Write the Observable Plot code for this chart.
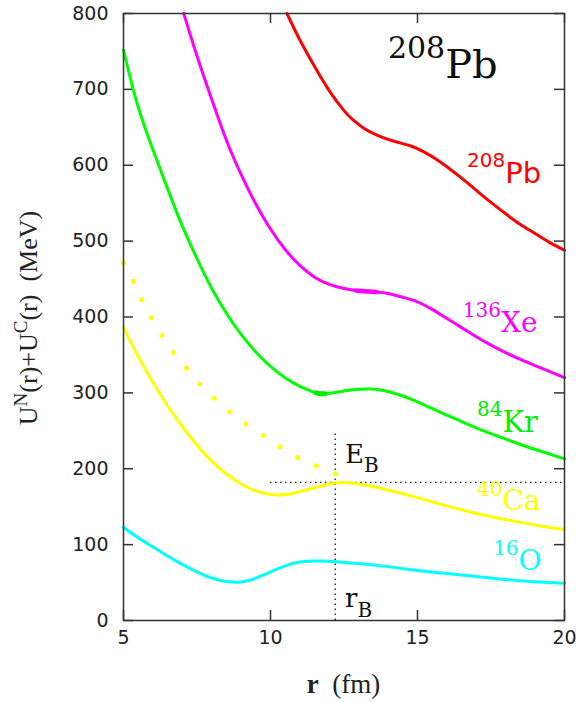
<!DOCTYPE html>
<html><head><meta charset="utf-8">
<script src="https://cdn.jsdelivr.net/npm/d3@7"></script>
<script src="https://cdn.jsdelivr.net/npm/@observablehq/plot@0.6"></script>
<style>body{margin:0;background:#fff;}</style>
</head><body><div id="chart"></div>
<script>
// ---- data (r in fm, U in MeV) ----
const pbR = [10.56, 11.0, 11.5, 12.0, 12.5, 12.8, 13.2, 13.6, 14.0, 14.4, 14.8, 15.2, 15.6, 16.0, 16.5, 17.0, 17.5, 18.0, 18.5, 19.0, 19.5, 20.0];
const pbU = [800, 765, 730, 698, 672, 660, 648, 640, 634, 629.5, 625, 618, 609, 598, 583, 567, 551, 536, 522, 510, 498, 488];

const xeR = [7.05, 7.5, 8.0, 8.5, 9.0, 9.5, 10.0, 10.5, 11.0, 11.5, 12.0, 12.5, 12.9, 13.2, 13.6, 14.0, 14.5, 15.0, 15.5, 16.0, 16.5, 17.0, 17.5, 18.0, 18.5, 19.0, 19.5, 20.0];
const xeU = [800, 744, 687, 633, 588, 549, 516, 489, 468, 452.5, 443, 437.5, 435, 434, 433, 431, 426, 420, 410, 398, 386, 374, 363, 353, 344, 336, 328, 320];

const krR = [5.0, 5.4, 5.8, 6.2, 6.6, 7.0, 7.5, 8.0, 8.5, 9.0, 9.5, 10.0, 10.5, 11.0, 11.3, 11.55, 11.7, 11.85, 12.2, 12.6, 13.0, 13.4, 13.8, 14.3, 14.8, 15.3, 15.8, 16.4, 17.0, 17.8, 18.5, 19.2, 20.0];
const krU = [752, 690, 642, 600, 559, 520, 477, 438, 405, 377, 354, 335, 320, 308.5, 303.5, 300, 298.8, 298.8, 300.5, 303, 304.8, 305, 303.5, 298.5, 291.5, 283, 274, 264, 254, 242, 232, 223, 213];

const caR = [5.0, 5.5, 6.0, 6.5, 7.0, 7.5, 8.0, 8.5, 9.0, 9.5, 10.0, 10.3, 10.7, 11.0, 11.5, 12.0, 12.4, 12.8, 13.3, 14.0, 15.0, 16.0, 17.0, 18.0, 19.0, 20.0];
const caU = [386, 348, 314, 283, 256, 231, 210, 193, 180, 171, 166, 165.5, 167, 170, 175, 180, 182, 181, 178, 172, 162, 151, 141, 133, 126, 120];

const caCoulR = [5.0, 5.35, 5.64, 5.98, 6.35, 6.77, 7.22, 7.68, 8.2, 8.76, 9.32, 9.94, 10.51, 11.13, 11.81, 12.6];
const caCoulU = [471, 446, 421, 397, 373, 350, 329, 308, 289, 270, 255, 239, 224, 211, 200, 187];

const oR = [5.0, 5.5, 6.0, 6.5, 7.0, 7.5, 8.0, 8.5, 8.9, 9.3, 9.7, 10.0, 10.5, 11.0, 11.5, 12.0, 12.5, 13.0, 14.0, 15.0, 16.0, 17.0, 18.0, 19.0, 20.0];
const oU = [123, 109, 97, 85, 74, 64, 56, 51.5, 50.5, 53, 59, 64, 72, 77, 78.5, 78, 76.5, 75, 71, 66, 62, 58, 54, 51, 49];

// barrier of 40Ca
const barrierR = 12.2;
const barrierE = 182;

// ticks
const xTicks = [5, 10, 15, 20];
const yTicks = [0, 100, 200, 300, 400, 500, 600, 700, 800];

const rows = (rs, us) => rs.map((r, i) => ({r, u: us[i]}));

// annotations: anchor (left, baseline) in data units
const labels = [
  {x: 14.01, y: 714, color: "#111", font: "DejaVu Serif", parts: [["208", 30, -20], ["Pb", 40, 0]]},
  {x: 16.70, y: 576, color: "#ff0000", font: "DejaVu Sans", parts: [["208", 20, -16], ["Pb", 29, 0]]},
  {x: 16.56, y: 379, color: "#ff00ff", font: "DejaVu Serif", parts: [["136", 20, -15], ["Xe", 28, 0]]},
  {x: 17.04, y: 248, color: "#00ee00", font: "DejaVu Serif", parts: [["84", 20, -16], ["Kr", 29, 0]]},
  {x: 17.04, y: 145, color: "#ffff00", font: "DejaVu Serif", parts: [["40", 20, -14], ["Ca", 28, 0]]},
  {x: 17.59, y: 66, color: "#00ffff", font: "DejaVu Serif", parts: [["16", 20, -15], ["O", 28, 0]]},
  {x: 12.55, y: 207, color: "#111", font: "DejaVu Serif", parts: [["E", 26, 0], ["B", 20, 9]]},
  {x: 12.55, y: 17, color: "#111", font: "DejaVu Serif", parts: [["r", 26, 0], ["B", 20, 10]]}
];

function drawLabels(index, scales, values, dims) {
  const g = d3.create("svg:g").attr("text-anchor", "start");
  for (const a of labels) {
    const x0 = scales.x(a.x), y0 = scales.y(a.y);
    const t = g.append("text").attr("x", x0).attr("y", y0)
      .attr("text-anchor", "start")
      .attr("fill", a.color).attr("font-family", a.font);
    for (const [s, size, shift] of a.parts) {
      t.append("tspan").attr("y", y0 + shift).attr("font-size", size).text(s);
    }
  }
  // axis titles
  const yl = g.append("text")
    .attr("transform", `translate(37,318) rotate(-90)`)
    .attr("text-anchor", "middle").attr("fill", "#222")
    .attr("font-family", "Liberation Serif").attr("font-size", 26)
    .style("white-space", "pre");
  yl.append("tspan").text("U");
  yl.append("tspan").attr("dy", -10).attr("font-size", 19).text("N");
  yl.append("tspan").attr("dy", 10).text("(r)+U");
  yl.append("tspan").attr("dy", -10).attr("font-size", 19).text("C");
  yl.append("tspan").attr("dy", 10).text("(r)  (MeV)");
  const xl = g.append("text")
    .attr("x", dims.marginLeft + (dims.width - dims.marginLeft - dims.marginRight) / 2)
    .attr("y", 693).attr("text-anchor", "middle").attr("fill", "#222")
    .attr("font-family", "Liberation Serif").attr("font-size", 27)
    .style("white-space", "pre");
  xl.append("tspan").attr("font-weight", "bold").text("r");
  xl.append("tspan").text("  (fm)");
  return g.node();
}

const W = 577, H = 702, mL = 123, mR = 13, mT = 13, mB = 82;
const fw = W - mL - mR, fh = H - mT - mB, tl = 10;
const tickStyle = {stroke: "#333", strokeWidth: 1.5};
const curve = "natural";

const chart = Plot.plot({
  width: W, height: H,
  marginLeft: mL, marginRight: mR, marginTop: mT, marginBottom: mB,
  x: {domain: [5, 20]},
  y: {domain: [0, 800]},
  style: {fontFamily: "DejaVu Sans", fontSize: "19px", color: "#222", background: "#fff"},
  marks: [
    Plot.tickY(yTicks, {insetRight: fw - tl, ...tickStyle}),
    Plot.tickY(yTicks, {insetLeft: fw - tl, ...tickStyle}),
    Plot.tickX(xTicks, {insetTop: fh - tl, ...tickStyle}),
    Plot.tickX(xTicks, {insetBottom: fh - tl, ...tickStyle}),
    Plot.axisY({ticks: yTicks, tickSize: 0, tickPadding: 15, label: null, fontSize: 19}),
    Plot.axisX({ticks: xTicks, tickSize: 0, tickPadding: 10, label: null, fontSize: 19}),
    Plot.ruleX([barrierR], {y1: 0, y2: 250, stroke: "#222", strokeWidth: 1.4, strokeDasharray: "1.5 3.5"}),
    Plot.ruleY([barrierE], {x1: 10, x2: 20, stroke: "#222", strokeWidth: 1.4, strokeDasharray: "1.5 3.5"}),
    Plot.line(rows(caCoulR, caCoulU), {x: "r", y: "u", stroke: "#ffff00", strokeWidth: 5, strokeDasharray: "0 20.5", strokeLinecap: "round", curve}),
    Plot.line(rows(oR, oU), {x: "r", y: "u", stroke: "#00ffff", strokeWidth: 3, curve}),
    Plot.line(rows(caR, caU), {x: "r", y: "u", stroke: "#ffff00", strokeWidth: 3, curve}),
    Plot.line(rows(krR, krU), {x: "r", y: "u", stroke: "#00ff00", strokeWidth: 3, curve}),
    Plot.line(rows(krR, krU), {filter: d => d.r >= 11.55 && d.r <= 11.85, x: "r", y: "u", stroke: "#00ee00", strokeWidth: 5, curve}),
    Plot.line(rows(xeR, xeU), {x: "r", y: "u", stroke: "#ff00ff", strokeWidth: 3, curve}),
    Plot.line(rows(xeR, xeU), {filter: d => d.r >= 12.9 && d.r <= 13.6, x: "r", y: "u", stroke: "#ff00ff", strokeWidth: 4.5, curve}),
    Plot.line(rows(pbR, pbU), {x: "r", y: "u", stroke: "#ff0000", strokeWidth: 3, curve}),
    Plot.frame({stroke: "#333", strokeWidth: 1.5}),
    drawLabels
  ]
});
document.getElementById("chart").append(chart);
</script>
</body></html>
